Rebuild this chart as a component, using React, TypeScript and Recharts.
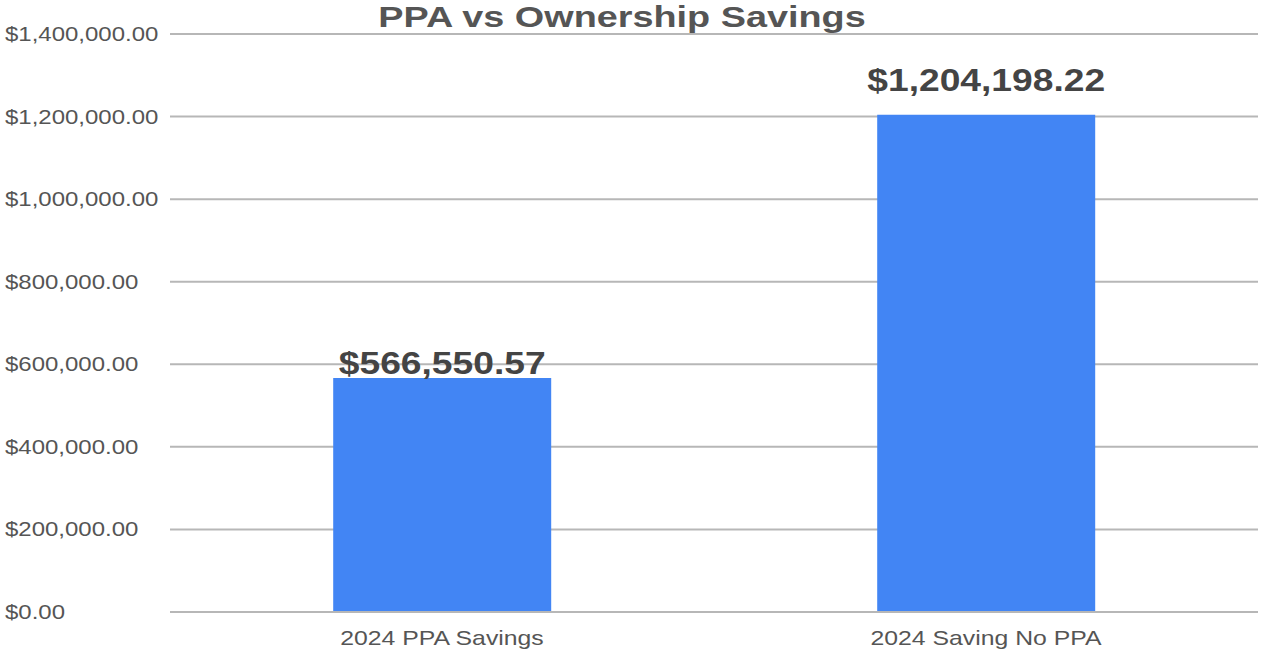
import React from 'react';
import { BarChart, Bar, XAxis, YAxis, CartesianGrid, LabelList } from 'recharts';

const categories = ['2024 PPA Savings', '2024 Saving No PPA'];
const savings = [566550.57, 1204198.22];
const yTicks = [0, 200000, 400000, 600000, 800000, 1000000, 1200000, 1400000];

const data = categories.map((name, i) => ({ name, savings: savings[i] }));

const money = (v: number) =>
  '$' + v.toLocaleString('en-US', { minimumFractionDigits: 2, maximumFractionDigits: 2 });

const FONT = '"Liberation Sans", Arial, sans-serif';

const YTick = (props: any) => {
  const { y, payload } = props;
  return (
    <text
      transform={`translate(5,${y}) scale(1.2,1)`}
      dy={7}
      fontSize={20}
      fontFamily={FONT}
      fill="#555"
      textAnchor="start"
    >
      {money(payload.value)}
    </text>
  );
};

const XTick = (props: any) => {
  const { x, y, payload } = props;
  return (
    <text
      transform={`translate(${x},${y}) scale(1.24,1)`}
      dy={25}
      fontSize={20}
      fontFamily={FONT}
      fill="#555"
      textAnchor="middle"
    >
      {payload.value}
    </text>
  );
};

const ValueLabel = (props: any) => {
  const { x, y, width, value, index } = props;
  const gap = index === 0 ? 4 : 24;
  return (
    <text
      transform={`translate(${x + width / 2},${y - gap}) scale(1.2,1)`}
      fontSize={31}
      fontWeight="bold"
      fontFamily={FONT}
      fill="#444"
      textAnchor="middle"
    >
      {money(value)}
    </text>
  );
};

export default function App() {
  return (
    <div style={{ position: 'absolute', left: 0, top: 0, width: 1262, height: 656, background: '#fff' }}>
      <div
        style={{
          position: 'absolute',
          left: 0,
          top: 0,
          width: 1244,
          textAlign: 'center',
          fontFamily: FONT,
          fontWeight: 'bold',
          fontSize: 30,
          color: '#555',
          lineHeight: '32px',
          transform: 'scale(1.26,1)',
          transformOrigin: '622px 0',
          marginTop: 1,
        }}
      >
        PPA vs Ownership Savings
      </div>
      <BarChart
        width={1262}
        height={656}
        data={data}
        margin={{ top: 34, right: 4, bottom: 0, left: 0 }}
        barCategoryGap="30%"
      >
        <CartesianGrid vertical={false} stroke="#b7b7b7" strokeWidth={2} />
        <XAxis
          dataKey="name"
          height={44}
          axisLine={{ stroke: '#b7b7b7', strokeWidth: 2 }}
          tickLine={false}
          tick={<XTick />}
          interval={0}
        />
        <YAxis
          width={170}
          domain={[0, 1400000]}
          ticks={yTicks}
          axisLine={false}
          tickLine={false}
          tick={<YTick />}
        />
        <Bar dataKey="savings" fill="#4285f4" isAnimationActive={false}>
          <LabelList dataKey="savings" content={<ValueLabel />} />
        </Bar>
      </BarChart>
    </div>
  );
}
